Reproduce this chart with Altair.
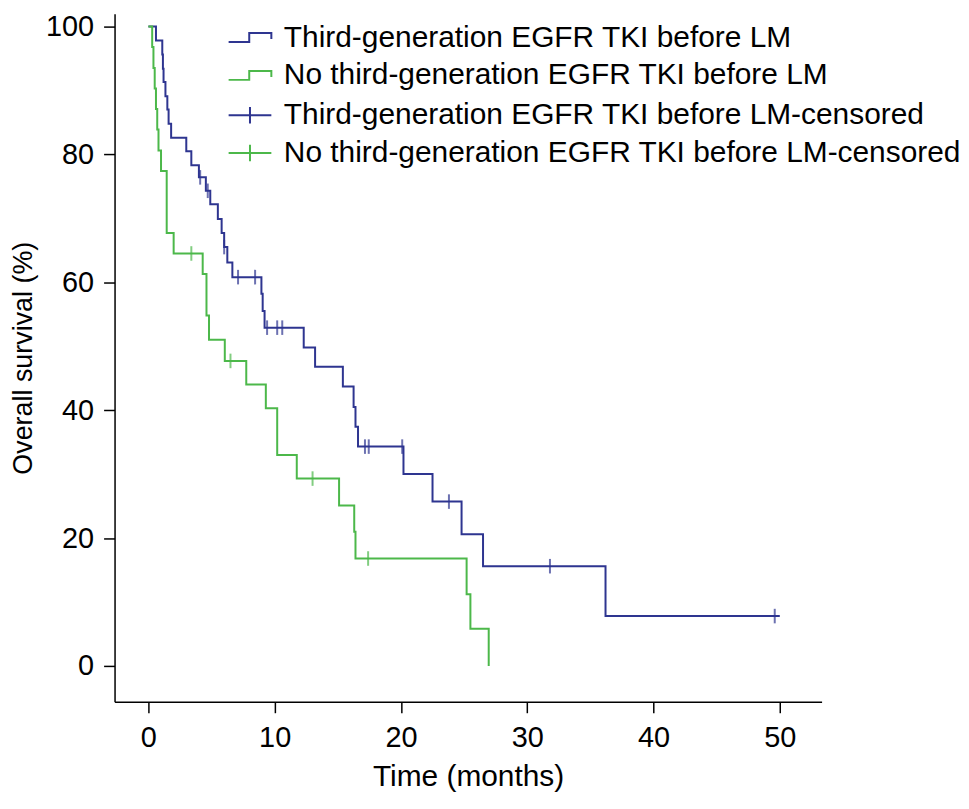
import altair as alt
import pandas as pd

# ---- data ----
line_labels = [
    "Third-generation EGFR TKI before LM",
    "No third-generation EGFR TKI before LM",
]
cens_labels = [
    "Third-generation EGFR TKI before LM-censored",
    "No third-generation EGFR TKI before LM-censored",
]
series_colors = ["#2e3590", "#4cb84a"]

blue_times = [0, 0.6, 1.1, 1.15, 1.2, 1.35, 1.5, 1.6, 1.8, 3.0, 3.4, 4.0, 4.55, 4.9, 5.5, 5.8, 6.0, 6.25, 6.65,
              8.95, 9.05, 9.2, 12.3, 13.2, 15.4, 16.25, 16.4, 16.6, 20.2, 22.5, 24.8, 26.5, 36.2, 50.0]
blue_surv = [100, 97.8, 95.6, 93.4, 91.3, 89.1, 87.0, 84.8, 82.6, 80.5, 78.3, 76.4, 74.3, 72.2, 69.9, 67.7, 65.5, 63.1, 60.8,
             58.2, 55.5, 52.9, 49.8, 46.8, 43.7, 40.5, 37.4, 34.3, 30.0, 25.7, 20.6, 15.6, 7.8, 7.8]
blue_cens_times = [4.1, 4.7, 6.0, 7.1, 8.45, 9.4, 10.2, 10.6, 17.15, 17.45, 20.1, 23.8, 31.8, 49.6]
blue_cens_surv = [76.4, 74.3, 65.5, 60.8, 60.8, 52.9, 52.9, 52.9, 34.3, 34.3, 34.3, 25.7, 15.6, 7.8]

green_times = [0, 0.3, 0.4, 0.5, 0.6, 0.7, 0.8, 1.0, 1.45, 2.0, 4.3, 4.6, 4.8, 6.05, 7.75, 9.3, 10.2, 11.75,
               15.1, 16.3, 16.4, 25.2, 25.5, 26.95]
green_surv = [100, 96.8, 93.5, 90.3, 87.1, 83.9, 80.6, 77.4, 67.7, 64.5, 61.3, 54.8, 51.0, 47.7, 44.0, 40.3, 33.0, 29.3,
              25.1, 21.0, 16.8, 11.2, 5.8, 0]
green_cens_times = [3.4, 6.5, 13.0, 17.4]
green_cens_surv = [64.5, 47.7, 29.3, 16.8]

x_ticks = [0, 10, 20, 30, 40, 50]
y_ticks = [0, 20, 40, 60, 80, 100]

# ---- tables ----
lines_df = pd.concat([
    pd.DataFrame({"t": blue_times, "s": blue_surv, "series": line_labels[0], "order": range(len(blue_times))}),
    pd.DataFrame({"t": green_times, "s": green_surv, "series": line_labels[1], "order": range(len(green_times))}),
])
cens_df = pd.concat([
    pd.DataFrame({"t": blue_cens_times, "s": blue_cens_surv, "series": cens_labels[0]}),
    pd.DataFrame({"t": green_cens_times, "s": green_cens_surv, "series": cens_labels[1]}),
])

FONT = "Liberation Sans, Arial, Helvetica, sans-serif"

x_scale = alt.Scale(domain=[-2.68, 53.31], nice=False, zero=False)
y_scale = alt.Scale(domain=[-5.6, 102.0], nice=False, zero=False)

step_path = "M-1.43,0.3H-0.05V-0.3H1.43V0.1"
plus_path = "M-1.43,0H1.43M0,-0.55V0.55"


def make_legend(sym, y):
    return alt.Legend(
        title=None,
        orient="none",
        legendX=120,
        legendY=y,
        padding=0,
        labelFont=FONT,
        labelFontSize=30,
        labelColor="black",
        labelLimit=1000,
        labelOffset=18,
        rowPadding=7,
        symbolSize=900,
        symbolType=sym,
        symbolStrokeWidth=2,
        symbolOpacity=1,
    )


x_axis = alt.Axis(values=x_ticks, title="Time (months)", grid=False)
y_axis = alt.Axis(values=y_ticks, title="Overall survival (%)", grid=False)

lines = alt.Chart(lines_df).mark_line(interpolate="step-after", strokeWidth=2).encode(
    x=alt.X("t:Q", scale=x_scale, axis=x_axis),
    y=alt.Y("s:Q", scale=y_scale, axis=y_axis),
    color=alt.Color("series:N", scale=alt.Scale(domain=line_labels, range=series_colors),
                    legend=make_legend(step_path, 8)),
    order="order:Q",
)

cens = alt.Chart(cens_df).mark_tick(orient="vertical", thickness=0.4, size=13, filled=False, strokeWidth=1.6).encode(
    x=alt.X("t:Q", scale=x_scale),
    y=alt.Y("s:Q", scale=y_scale),
    stroke=alt.Stroke("series:N", scale=alt.Scale(domain=cens_labels, range=series_colors),
                      legend=make_legend(plus_path, 86)),
)

chart = alt.layer(lines, cens).properties(
    width=710,
    height=691,
    autosize=alt.AutoSizeParams(type="none"),
    padding={"left": 107, "top": 4, "right": 140, "bottom": 104},
    background="white",
).configure_view(stroke=None).configure_axis(
    domainColor="black",
    domainWidth=1.5,
    tickColor="black",
    tickWidth=1.5,
    tickSize=11,
    labelFont=FONT,
    labelColor="black",
    titleFont=FONT,
    titleFontWeight="normal",
    titleColor="black",
).configure_axisX(
    labelFontSize=29,
    labelPadding=11,
    titleFontSize=30,
    titlePadding=9,
).configure_axisY(
    labelFontSize=29,
    labelPadding=10,
    titleFontSize=27,
    titlePadding=8,
)

chart.save("out.html", embed_options={"renderer": "svg", "actions": False})
